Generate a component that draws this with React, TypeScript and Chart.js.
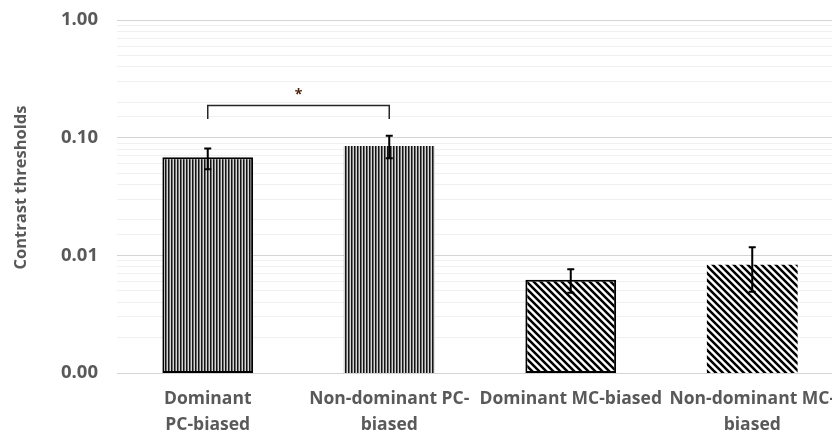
import React, { useEffect, useRef } from 'react';
import { Chart, registerables } from 'chart.js';

Chart.register(...registerables);

// ---- data ----
const categories: (string | string[])[] = [
  ['Dominant', 'PC-biased'],
  ['Non-dominant PC-', 'biased'],
  'Dominant MC-biased',
  ['Non-dominant MC-', 'biased'],
];
const thresholds = [0.068, 0.085, 0.0062, 0.0083];
const errLower = [0.054, 0.067, 0.0048, 0.0049];
const errUpper = [0.081, 0.104, 0.0076, 0.0117];
const barPattern = ['vertical', 'vertical', 'diagonal', 'diagonal'];
const barOutlined = [true, false, true, false];
const yMin = 0.001;
const yMax = 1;
const yTitle = 'Contrast thresholds';
const sigPair = [0, 1];
const sigBracketValue = 0.188;
const sigLegValue = 0.144;
const sigStarValue = 0.24;
const sigLabel = '*';

const FONT = "'Open Sans', 'Noto Sans', sans-serif";
const TEXT = '#595959';

const isPow10 = (v: number) => {
  const l = Math.log10(v);
  return Math.abs(l - Math.round(l)) < 1e-9;
};

function makeVertical(): CanvasPattern {
  const c = document.createElement('canvas');
  c.width = 3;
  c.height = 4;
  const g = c.getContext('2d')!;
  g.fillStyle = '#141414';
  g.fillRect(0, 0, 1, 4);
  g.fillStyle = '#707070';
  g.fillRect(1, 0, 1, 4);
  g.fillStyle = '#d6d6d6';
  g.fillRect(2, 0, 1, 4);
  return g.createPattern(c, 'repeat')!;
}

function makeDiagonal(): CanvasPattern {
  const s = 7;
  const c = document.createElement('canvas');
  c.width = s;
  c.height = s;
  const g = c.getContext('2d')!;
  g.fillStyle = '#ffffff';
  g.fillRect(0, 0, s, s);
  g.strokeStyle = '#000000';
  g.lineWidth = 2.5;
  g.beginPath();
  for (const k of [-s, 0, s]) {
    g.moveTo(k - 2, -2);
    g.lineTo(k + s + 2, s + 2);
  }
  g.stroke();
  return g.createPattern(c, 'repeat')!;
}

const extrasPlugin = {
  id: 'extras',
  afterDatasetsDraw(chart: any) {
    const ctx = chart.ctx as CanvasRenderingContext2D;
    const meta = chart.getDatasetMeta(0);
    const y = chart.scales.y;
    ctx.save();
    // error bars
    ctx.strokeStyle = '#000';
    ctx.lineWidth = 2;
    thresholds.forEach((_, i) => {
      const x = meta.data[i].x;
      const t = y.getPixelForValue(errUpper[i]);
      const b = y.getPixelForValue(errLower[i]);
      ctx.beginPath();
      ctx.moveTo(x, t);
      ctx.lineTo(x, b);
      ctx.moveTo(x - 3.5, t);
      ctx.lineTo(x + 3.5, t);
      ctx.moveTo(x - 3.5, b);
      ctx.lineTo(x + 3.5, b);
      ctx.stroke();
    });
    // significance bracket
    const x1 = meta.data[sigPair[0]].x;
    const x2 = meta.data[sigPair[1]].x;
    const yb = Math.round(y.getPixelForValue(sigBracketValue)) + 0.5;
    const yl = y.getPixelForValue(sigLegValue);
    ctx.strokeStyle = '#262626';
    ctx.lineWidth = 1.5;
    ctx.beginPath();
    ctx.moveTo(x1, yl);
    ctx.lineTo(x1, yb);
    ctx.lineTo(x2, yb);
    ctx.lineTo(x2, yl);
    ctx.stroke();
    ctx.fillStyle = '#4a1f08';
    ctx.font = `bold 14px ${FONT}`;
    ctx.textAlign = 'center';
    ctx.textBaseline = 'middle';
    ctx.fillText(sigLabel, (x1 + x2) / 2, y.getPixelForValue(sigStarValue) + 2);
    ctx.restore();
  },
  afterDraw(chart: any) {
    const ctx = chart.ctx as CanvasRenderingContext2D;
    const a = chart.chartArea;
    ctx.save();
    ctx.translate(21, (a.top + a.bottom) / 2 - 9);
    ctx.rotate(-Math.PI / 2);
    ctx.fillStyle = TEXT;
    ctx.font = `bold 16.5px ${FONT}`;
    ctx.textAlign = 'center';
    ctx.textBaseline = 'middle';
    ctx.fillText(yTitle, 0, 0);
    ctx.restore();
  },
};

export default function App() {
  const ref = useRef<HTMLCanvasElement | null>(null);

  useEffect(() => {
    if (!ref.current) return;
    const vp = makeVertical();
    const dp = makeDiagonal();
    const chart = new Chart(ref.current, {
      type: 'bar',
      data: {
        labels: categories as any,
        datasets: [
          {
            data: thresholds,
            backgroundColor: barPattern.map((p) => (p === 'vertical' ? vp : dp)) as any,
            borderColor: '#000000',
            borderWidth: barOutlined.map((o) => (o ? 2 : 0)),
            borderSkipped: false,
            barPercentage: 0.5,
            categoryPercentage: 1,
          },
        ],
      },
      options: {
        animation: false,
        responsive: false,
        maintainAspectRatio: false,
        layout: { padding: { top: 20, right: 7, left: 0, bottom: 0 } },
        plugins: { legend: { display: false }, tooltip: { enabled: false } },
        scales: {
          x: {
            grid: { display: false, drawTicks: false },
            border: { display: false },
            ticks: {
              color: TEXT,
              font: { family: FONT, size: 17.5, weight: 'bold', lineHeight: 1.43 },
              padding: 14,
              maxRotation: 0,
              minRotation: 0,
              autoSkip: false,
            },
            afterFit(s: any) {
              s.height = 61;
            },
          },
          y: {
            type: 'logarithmic',
            min: yMin,
            max: yMax,
            border: { display: false },
            grid: {
              drawTicks: true,
              tickLength: 19,
              tickColor: 'rgba(0,0,0,0)',
              color: (c: any) => (c.tick && isPow10(c.tick.value) ? '#d4d4d4' : '#f0f0f0'),
              lineWidth: 1,
            },
            ticks: {
              autoSkip: false,
              color: TEXT,
              font: { family: FONT, size: 18.5, weight: 'bold' },
              padding: 0,
              callback: (v: any) => (isPow10(Number(v)) ? Number(v).toFixed(2) : ''),
            },
            afterFit(s: any) {
              s.width = 117;
            },
          },
        },
      } as any,
      plugins: [extrasPlugin],
    });
    return () => chart.destroy();
  }, []);

  return (
    <div
      style={{
        position: 'absolute',
        left: 0,
        top: 0,
        width: 832,
        height: 434,
        overflow: 'hidden',
        background: '#ffffff',
      }}
    >
      <canvas ref={ref} width={850} height={434} style={{ display: 'block' }} />
    </div>
  );
}
